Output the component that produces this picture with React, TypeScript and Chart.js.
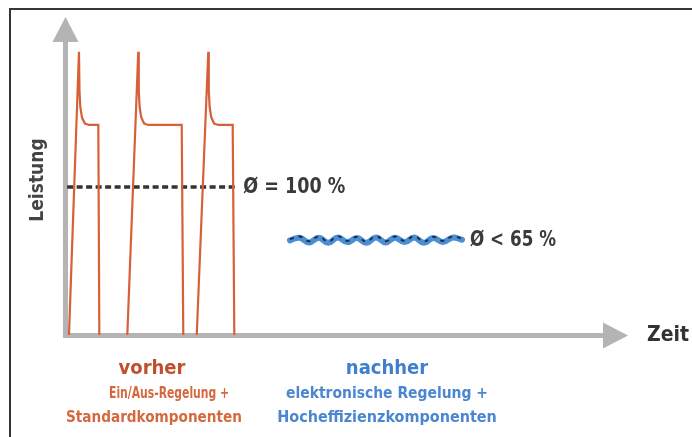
import React, { useEffect, useRef } from "react";
import { Chart, registerables } from "chart.js";

Chart.register(...registerables);

// ---- data (time units / power in % of the old average) ----
const pulse1T = [0.53, 2.31, 2.4, 2.55, 2.85, 3.35, 4.1, 5.75, 5.93];
const pulse1P = [0, 191.5, 165, 154, 147, 143, 142, 142, 0];
const pulse2T = [10.91, 12.86, 12.95, 13.1, 13.4, 13.9, 14.65, 20.59, 20.87];
const pulse2P = [0, 191.5, 165, 154, 147, 143, 142, 142, 0];
const pulse3T = [23.26, 25.32, 25.41, 25.56, 25.86, 26.36, 27.11, 29.66, 29.95];
const pulse3P = [0, 191.5, 165, 154, 147, 143, 142, 142, 0];

const avgBeforeT = [0.2, 30.3];
const avgBeforeP = [100, 100];

const waveT = [39.86, 41.56, 43.26, 44.96, 46.66, 48.36, 50.06, 51.76, 53.46, 55.16, 56.86, 58.56, 60.26, 61.96, 63.66, 65.36, 67.06, 68.76, 70.46];
const waveP = [64, 65.8, 62.6, 65.8, 62.4, 66, 62.8, 65.6, 62.4, 66, 62.6, 65.8, 62.8, 66, 62.4, 65.6, 62.8, 65.8, 64.4];
const waveDashP = [64.8, 66.6, 63.4, 66.6, 63.2, 66.8, 63.6, 66.4, 63.2, 66.8, 63.4, 66.6, 63.6, 66.8, 63.2, 66.4, 63.6, 66.6, 65.2];

const avgBeforeLabel = "Ø = 100 %";
const avgAfterLabel = "Ø < 65 %";
const yAxisLabel = "Leistung";
const xAxisLabel = "Zeit";
const beforeLines = ["vorher", "Ein/Aus-Regelung +", "Standardkomponenten"];
const afterLines = ["nachher", "elektronische Regelung +", "Hocheffizienzkomponenten"];

const FONT = '"DejaVu Sans Condensed", "Liberation Sans Narrow", "DejaVu Sans", sans-serif';

function pts(t: number[], p: number[]) {
  return t.map((x, i) => ({ x, y: p[i] }));
}

const decorPlugin = {
  id: "decor",
  beforeDatasetsDraw(chart: any) {
    const { ctx, scales } = chart;
    const xs = scales.x;
    const ys = scales.y;
    const x0 = xs.getPixelForValue(0) - 0.5;
    const y0 = ys.getPixelForValue(0) + 0.5;
    const yTop = ys.getPixelForValue(ys.max);
    const xEnd = xs.getPixelForValue(xs.max);
    ctx.save();
    ctx.strokeStyle = "#b4b4b4";
    ctx.fillStyle = "#b4b4b4";
    ctx.lineWidth = 5;
    ctx.beginPath();
    ctx.moveTo(x0, y0 + 2.5);
    ctx.lineTo(x0, yTop + 24);
    ctx.moveTo(x0 - 2.5, y0);
    ctx.lineTo(xEnd - 24, y0);
    ctx.stroke();
    ctx.beginPath();
    ctx.moveTo(x0, yTop);
    ctx.lineTo(x0 - 13, yTop + 25);
    ctx.lineTo(x0 + 13, yTop + 25);
    ctx.closePath();
    ctx.fill();
    ctx.beginPath();
    ctx.moveTo(xEnd, y0);
    ctx.lineTo(xEnd - 25, y0 - 13);
    ctx.lineTo(xEnd - 25, y0 + 13);
    ctx.closePath();
    ctx.fill();
    ctx.restore();
  },
  afterDraw(chart: any) {
    const { ctx, scales, chartArea } = chart;
    const xs = scales.x;
    const ys = scales.y;
    const y0 = ys.getPixelForValue(0);
    ctx.save();
    ctx.textBaseline = "middle";
    const put = (s: string, x: number, y: number, size: number, color: string, align: string, w: number, weight = "bold") => {
      ctx.font = `${weight} ${size}px ${FONT}`;
      ctx.fillStyle = color;
      ctx.textAlign = align;
      ctx.fillText(s, x, y, w);
    };
    // average labels
    put(avgBeforeLabel, xs.getPixelForValue(avgBeforeT[1]) + 7, ys.getPixelForValue(avgBeforeP[1]) + 0.5, 22, "#3a3a3a", "left", 102);
    put(avgAfterLabel, xs.getPixelForValue(waveT[waveT.length - 1]) + 8, ys.getPixelForValue(64.2) + 1, 21, "#3a3a3a", "left", 86);
    // axis labels
    put(xAxisLabel, chartArea.right + 19, y0 + 1, 21, "#333333", "left", 46);
    ctx.save();
    ctx.translate(38, 180);
    ctx.rotate(-Math.PI / 2);
    put(yAxisLabel, 0, 0, 19, "#444444", "center", 84, "600");
    ctx.restore();
    // bottom captions
    put(beforeLines[0], 152, y0 + 34, 20, "#c14f2d", "center", 70);
    put(beforeLines[1], 169, y0 + 59, 16, "#d4683e", "center", 120);
    put(beforeLines[2], 154, y0 + 83, 16, "#d4683e", "center", 176);
    put(afterLines[0], 387, y0 + 34, 20, "#3f7fcf", "center", 84);
    put(afterLines[1], 387, y0 + 59, 16, "#4b86d1", "center", 202);
    put(afterLines[2], 387, y0 + 83, 16, "#4b86d1", "center", 220);
    ctx.restore();
  },
};

export default function App() {
  const ref = useRef<HTMLCanvasElement>(null);
  useEffect(() => {
    if (!ref.current) return;
    const pulseColor = "#d6603a";
    const chart = new Chart(ref.current, {
      type: "line",
      data: {
        datasets: [
          { label: "p1", data: pts(pulse1T, pulse1P), borderColor: pulseColor, borderWidth: 2.2, tension: 0, order: 0 },
          { label: "p2", data: pts(pulse2T, pulse2P), borderColor: pulseColor, borderWidth: 2.2, tension: 0, order: 0 },
          { label: "p3", data: pts(pulse3T, pulse3P), borderColor: pulseColor, borderWidth: 2.2, tension: 0, order: 0 },
          { label: "avg", data: pts(avgBeforeT, avgBeforeP), borderColor: "#333333", borderWidth: 3.5, borderDash: [6, 3.5], tension: 0, order: 0 },
          { label: "wave", data: pts(waveT, waveP), borderColor: "#4a8fd6", borderWidth: 6, tension: 0.45, borderCapStyle: "round", order: 3 },
          { label: "wave-dash", data: pts(waveT, waveDashP), borderColor: "#1f2a36", borderWidth: 1.8, borderDash: [4, 5], tension: 0.45, order: 1 },
        ] as any,
      },
      options: {
        responsive: false,
        animation: false,
        devicePixelRatio: 1,
        layout: { padding: { left: 66, right: 64, top: 17, bottom: 102 } },
        elements: { point: { radius: 0, hoverRadius: 0 } },
        scales: {
          x: { type: "linear", min: 0, max: 100, display: false },
          y: { type: "linear", min: 0, max: 215, display: false },
        },
        plugins: { legend: { display: false }, tooltip: { enabled: false } },
      } as any,
      plugins: [decorPlugin],
    });
    return () => chart.destroy();
  }, []);
  return (
    <>
      <canvas
        ref={ref}
        width={692}
        height={437}
        style={{ position: "fixed", left: 0, top: 0, width: 692, height: 437, background: "#ffffff" }}
      />
      <div
        style={{
          position: "fixed",
          left: 9,
          top: 8,
          right: 0,
          bottom: 0,
          borderTop: "2px solid #353535",
          borderLeft: "2px solid #353535",
          pointerEvents: "none",
        }}
      />
    </>
  );
}
